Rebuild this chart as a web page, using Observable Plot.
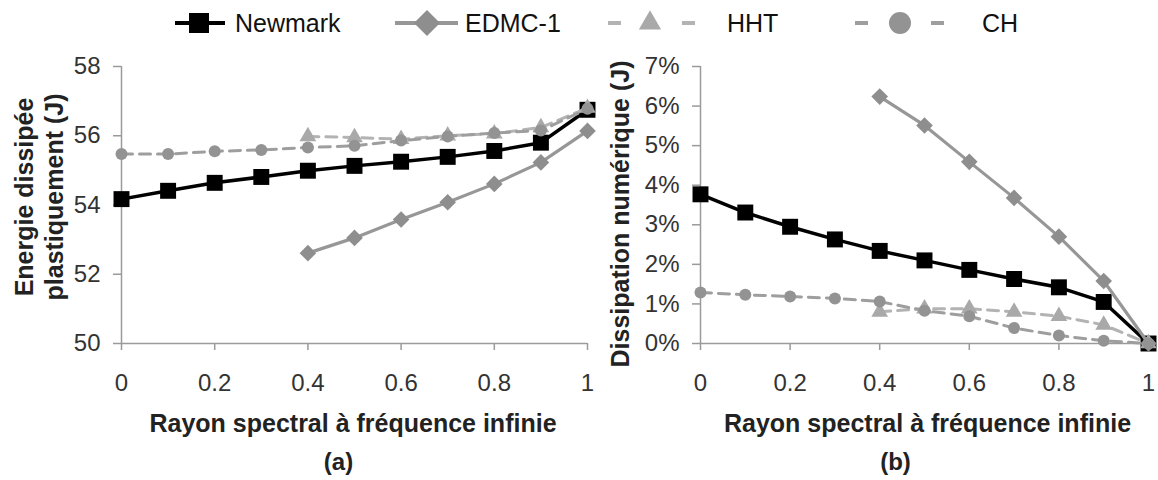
<!DOCTYPE html>
<html><head><meta charset="utf-8">
<script src="https://cdn.jsdelivr.net/npm/d3@7"></script>
<script src="https://cdn.jsdelivr.net/npm/@observablehq/plot@0.6"></script>
<style>
body{margin:0;background:#fff;font-family:"Liberation Sans",Arial,sans-serif;}
#wrap{position:relative;width:1158px;height:480px;overflow:hidden;background:#fff}
#legend{position:absolute;left:0;top:0}
#a{position:absolute;left:0;top:45px}
#b{position:absolute;left:600px;top:45px}
</style></head><body>
<div id="wrap"><svg id="legend" width="1158" height="45"></svg><div id="a"></div><div id="b"></div></div>
<script>
// ---- data ----
const rho = [0, 0.1, 0.2, 0.3, 0.4, 0.5, 0.6, 0.7, 0.8, 0.9, 1];
const rhoHigh = [0.4, 0.5, 0.6, 0.7, 0.8, 0.9, 1];
const methods = ["Newmark", "EDMC-1", "HHT", "CH"];
// (a) Energie dissipée plastiquement (J)
const energyNewmark = [54.17, 54.41, 54.64, 54.81, 54.99, 55.13, 55.25, 55.39, 55.56, 55.80, 56.75];
const energyEDMC = [52.61, 53.05, 53.58, 54.08, 54.61, 55.23, 56.14];
const energyHHT = [55.98, 55.95, 55.90, 56.00, 56.06, 56.24, 56.80];
const energyCH = [55.47, 55.47, 55.55, 55.59, 55.66, 55.71, 55.86, 55.98, 56.08, 56.15, 56.78];
// (b) Dissipation numérique (%)
const dissNewmark = [3.77, 3.31, 2.95, 2.63, 2.34, 2.10, 1.86, 1.63, 1.42, 1.05, 0];
const dissEDMC = [6.24, 5.51, 4.59, 3.68, 2.70, 1.58, 0];
const dissHHT = [0.80, 0.88, 0.88, 0.80, 0.69, 0.47, 0];
const dissCH = [1.29, 1.23, 1.19, 1.14, 1.06, 0.83, 0.69, 0.39, 0.20, 0.07, 0];
// ticks & labels
const xTicks = [0, 0.2, 0.4, 0.6, 0.8, 1];
const energyTicks = [50, 52, 54, 56, 58];
const dissTicks = [0, 1, 2, 3, 4, 5, 6, 7];
const xTitle = "Rayon spectral à fréquence infinie";
const yTitleA = "Energie dissipée\nplastiquement (J)";
const yTitleB = "Dissipation numérique (J)";

// ---- styles ----
const FONT = "'Liberation Sans', Arial, sans-serif";
const seriesStyle = {
  "Newmark": {color: "#000", mark: "#000", symbol: "square", r: 9, sw: 3.5, dash: null},
  "EDMC-1": {color: "#979797", mark: "#8e8e8e", symbol: "diamond2", r: 7.5, sw: 3.2, dash: null},
  "HHT": {color: "#b3b3b3", mark: "#a9a9a9", symbol: "triangle", r: 6.2, sw: 3, dash: "11,7"},
  "CH": {color: "#9e9e9e", mark: "#939393", symbol: "circle", r: 6, sw: 3, dash: "11,7"}
};

function table(xs, ys, method) { return xs.map((x, i) => ({x, y: ys[i], method})); }

function seriesMarks(rows) {
  const out = [];
  for (const m of methods) {
    const d = rows.filter(r => r.method === m);
    const s = seriesStyle[m];
    out.push(Plot.line(d, {x: "x", y: "y", stroke: s.color, strokeWidth: s.sw, strokeDasharray: s.dash, strokeLinejoin: "round"}));
    out.push(Plot.dot(d, {x: "x", y: "y", symbol: () => s.symbol, r: s.r, fill: s.mark, stroke: "none"}));
  }
  return out;
}

function chart({width, marginLeft, marginRight, yDomain, yTicks, yFormat, rows, yTitle, yTitleOpts, caption, titleDx, captionDx}) {
  const p = Plot.plot({
    width, height: 435,
    marginTop: 21, marginBottom: 137, marginLeft, marginRight,
    style: {fontFamily: FONT, fontSize: "24px", color: "#333", background: "white", overflow: "visible"},
    x: {domain: [0, 1], ticks: xTicks, tickFormat: d => String(d), tickSize: 7, tickPadding: 23, label: null},
    y: {domain: yDomain, ticks: yTicks, tickFormat: yFormat, tickSize: 8, tickPadding: 13, label: null},
    symbol: {type: "identity"},
    marks: [
      Plot.ruleY([yDomain[0]], {stroke: "#9a9a9a", strokeWidth: 1.5}),
      Plot.ruleX([0], {stroke: "#9a9a9a", strokeWidth: 1.5}),
      ...seriesMarks(rows),
      Plot.text([yTitle], {text: d => d, frameAnchor: "left", textAnchor: "middle", lineAnchor: "middle", rotate: -90, fill: "#222", fontFamily: FONT, ...yTitleOpts}),
      Plot.text([xTitle], {text: d => d, frameAnchor: "bottom", textAnchor: "middle", lineAnchor: "middle", dy: 80, dx: titleDx, fontWeight: "bold", fontSize: 25, fill: "#222", fontFamily: FONT}),
      Plot.text([caption], {text: d => d, frameAnchor: "bottom", textAnchor: "middle", lineAnchor: "middle", dy: 119, dx: captionDx, fontWeight: "bold", fontSize: 24, fill: "#222", fontFamily: FONT})
    ]
  });
  d3.select(p).selectAll('g[aria-label*="axis"] path, g[aria-label*="axis"] line')
    .attr("stroke", "#9a9a9a").attr("stroke-width", 1.5);
  return p;
}

const rowsA = [
  ...table(rho, energyNewmark, "Newmark"),
  ...table(rhoHigh, energyEDMC, "EDMC-1"),
  ...table(rhoHigh, energyHHT, "HHT"),
  ...table(rho, energyCH, "CH")
];
const rowsB = [
  ...table(rho, dissNewmark, "Newmark"),
  ...table(rhoHigh, dissEDMC, "EDMC-1"),
  ...table(rhoHigh, dissHHT, "HHT"),
  ...table(rho, dissCH, "CH")
];

document.getElementById("a").appendChild(chart({
  width: 600, marginLeft: 121, marginRight: 13,
  yDomain: [50, 58], yTicks: energyTicks, yFormat: d => String(d), rows: rowsA,
  yTitle: yTitleA, yTitleOpts: {dx: -83, dy: -8, fontSize: 25, fontWeight: "bold", lineHeight: 1.2},
  caption: "(a)", titleDx: -1.5, captionDx: -16
}));
document.getElementById("b").appendChild(chart({
  width: 558, marginLeft: 100, marginRight: 10,
  yDomain: [0, 7], yTicks: dissTicks, yFormat: d => d + "%", rows: rowsB,
  yTitle: yTitleB, yTitleOpts: {dx: -80, dy: 9, fontSize: 25, fontWeight: "bold"},
  caption: "(b)", titleDx: 3, captionDx: -29
}));

// ---- legend ----
const lg = d3.select("#legend");
const legendItems = [
  {m: "Newmark", lines: [[175, 225]], cx: 199, size: 400, tx: 235},
  {m: "EDMC-1", lines: [[395, 458]], cx: 427, size: 431, tx: 465},
  {m: "HHT", lines: [[608, 621], [682, 695]], cx: 650, size: 215, tx: 727},
  {m: "CH", lines: [[855, 868], [931, 944]], cx: 900, size: 380, tx: 982}
];
const symMap = {square: d3.symbolSquare, diamond2: d3.symbolDiamond2, triangle: d3.symbolTriangle, circle: d3.symbolCircle};
const LY = 23;
for (const it of legendItems) {
  const s = seriesStyle[it.m];
  for (const [x1, x2] of it.lines) {
    lg.append("line").attr("x1", x1).attr("x2", x2).attr("y1", LY).attr("y2", LY)
      .attr("stroke", s.color).attr("stroke-width", 4);
  }
  lg.append("path").attr("d", d3.symbol(symMap[s.symbol], it.size)())
    .attr("transform", `translate(${it.cx},${LY})`).attr("fill", s.mark);
  lg.append("text").attr("x", it.tx).attr("y", LY).attr("dy", "0.35em")
    .attr("font-family", FONT).attr("font-size", 25).attr("fill", "#111").text(it.m);
}
</script>
</body></html>
